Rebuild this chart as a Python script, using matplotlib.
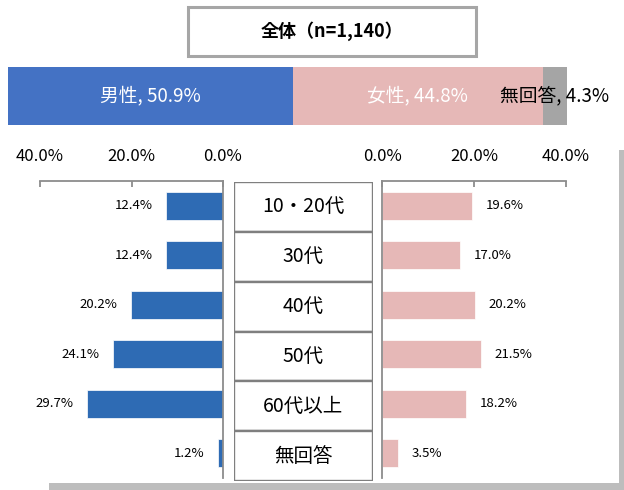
import matplotlib
matplotlib.use("Agg")
import matplotlib.pyplot as plt
from matplotlib.patches import Rectangle

plt.rcParams["font.family"] = ["Noto Sans CJK JP", "DejaVu Sans"]

# overall split
total_labels = ["男性", "女性", "無回答"]
total_share = [50.9, 44.8, 4.3]
total_n = 1140

# age breakdown, % within each sex
age_groups = ["10・20代", "30代", "40代", "50代", "60代以上", "無回答"]
male_pct = [12.4, 12.4, 20.2, 24.1, 29.7, 1.2]
female_pct = [19.6, 17.0, 20.2, 21.5, 18.2, 3.5]
tick_vals = [0, 20, 40]

W, H = 624, 490
GRID = "#8c8c8c"
BLUE_TOP = "#4472C4"
BLUE = "#2E6BB4"
PINK = "#E6B8B7"
GRAY = "#A5A5A5"


def px_axes(fig, x0, y0, x1, y1):
    # axes placed by pixel box (top-left origin)
    return fig.add_axes([x0 / W, 1 - y1 / H, (x1 - x0) / W, (y1 - y0) / H])


def px_rect(fig, x0, y0, x1, y1, **kw):
    fig.patches.append(Rectangle((x0 / W, 1 - y1 / H), (x1 - x0) / W, (y1 - y0) / H,
                                 transform=fig.transFigure, **kw))


fig = plt.figure(figsize=(W / 100, H / 100), dpi=100)

# drop shadow of the frame
px_rect(fig, 49, 483, 624, 490, facecolor="#bdbdbd", edgecolor="none")
px_rect(fig, 619, 150, 624, 490, facecolor="#bdbdbd", edgecolor="none")

# title box
px_rect(fig, 188, 7, 476, 56, facecolor="white", edgecolor="#a6a6a6", linewidth=2.2)
fig.text(332 / W, 1 - 31 / H, f"全体（n={total_n:,}）", ha="center", va="center",
         fontsize=13, fontweight="bold")

# stacked total bar
ax_top = px_axes(fig, 8, 67, 567, 125)
left = 0
for lab, v, c, tc in zip(total_labels, total_share, [BLUE_TOP, PINK, GRAY],
                         ["white", "white", "black"]):
    ax_top.barh(0, v, left=left, height=1.0, color=c, edgecolor="none")
    ax_top.text(left + v / 2, 0, f"{lab}, {v}%", ha="center", va="center",
                fontsize=13.5, color=tc)
    left += v
ax_top.set_xlim(0, 100)
ax_top.set_ylim(-0.5, 0.5)
ax_top.axis("off")

rows = range(len(age_groups))


def style_side(ax, spine_side):
    for s in ax.spines.values():
        s.set_visible(False)
    for s in ["top", spine_side]:
        ax.spines[s].set_visible(True)
        ax.spines[s].set_color(GRID)
        ax.spines[s].set_linewidth(1.3)
    ax.set_ylim(len(age_groups) - 0.5, -0.5)
    ax.set_yticks([])
    ax.xaxis.tick_top()
    ax.set_xticks(tick_vals)
    ax.set_xticklabels([f"{t:.1f}%" for t in tick_vals])
    ax.tick_params(axis="x", direction="in", length=4.5, width=1.3, color=GRID,
                   pad=11.5, labelsize=12)


# male side (bars grow to the left)
ax_m = px_axes(fig, 40, 181, 223, 478)
ax_m.barh(rows, male_pct, height=0.56, color=BLUE, edgecolor="white", linewidth=0.5)
ax_m.set_xlim(40, 0)
style_side(ax_m, "right")
for i, v in enumerate(male_pct):
    ax_m.annotate(f"{v}%", (v, i), xytext=(-9.5, 0), textcoords="offset points",
                  ha="right", va="center", fontsize=9.5)

# female side
ax_f = px_axes(fig, 382, 181, 566, 478)
ax_f.barh(rows, female_pct, height=0.56, color=PINK, edgecolor="white", linewidth=0.5)
ax_f.set_xlim(0, 40)
style_side(ax_f, "left")
for i, v in enumerate(female_pct):
    ax_f.annotate(f"{v}%", (v, i), xytext=(10, 0), textcoords="offset points",
                  ha="left", va="center", fontsize=9.5)

# age group labels in a boxed column
ax_c = px_axes(fig, 234, 182, 373, 481)
ax_c.set_xlim(0, 1)
ax_c.set_ylim(len(age_groups), 0)
for i, g in enumerate(age_groups):
    ax_c.add_patch(Rectangle((0, i), 1, 1, facecolor="white", edgecolor="#7f7f7f",
                             linewidth=1.7))
    ax_c.text(0.5, i + 0.5, g, ha="center", va="center", fontsize=14)
ax_c.axis("off")

fig.savefig("out.png", dpi=100)
